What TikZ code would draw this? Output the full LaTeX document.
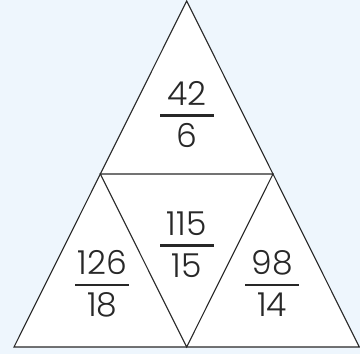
\documentclass[tikz,border=0pt]{standalone}
\usepackage{fontspec}
\setmainfont{Poppins}[UprightFont=* Light]
\usetikzlibrary{positioning, calc}
\definecolor{cBack}{RGB}{238, 246, 253}
\definecolor{tDark}{RGB}{40, 40, 40}

\begin{document}
\begin{tikzpicture}[
    x=1pt, y=1pt,
    font=\fontsize{33}{36}\selectfont,
    edge/.style={draw=tDark, line width=1.1pt, line join=miter},
    bar/.style={fill=tDark, minimum width=54pt, minimum height=2.6pt, inner sep=0pt},
    num/.style={text=tDark, inner sep=0pt}
]
\useasboundingbox[fill=cBack] (0,0) rectangle (360,354);

% corners of the big triangle
\coordinate (apex) at (186.7, 353);
\coordinate (bl) at (14, 7);
\coordinate (br) at (359.3, 7);
\coordinate (ml) at ($(apex)!0.5!(bl)$);
\coordinate (mr) at ($(apex)!0.5!(br)$);
\coordinate (mb) at ($(bl)!0.5!(br)$);

\fill[white] (apex) -- (bl) -- (br) -- cycle;
\draw[edge] (apex) -- (bl) -- (br) -- cycle;
\draw[edge] (ml) -- (mr) -- (mb) -- cycle;

% top
\node[bar] (btop) at (186.7, 238.3) {};
\node[num, above=8.5pt of btop] (ntop) {42};
\node[num, below=6pt of btop] (dtop) {6};

% middle
\node[bar] (bmid) at (186.7, 108.3) {};
\node[num, above=8.5pt of bmid] (nmid) {115};
\node[num, below=6pt of bmid] (dmid) {15};

% left
\node[bar] (bleft) at (102.2, 69) {};
\node[num, above=8.5pt of bleft] (nleft) {126};
\node[num, below=6pt of bleft] (dleft) {18};

% right
\node[bar] (bright) at (272.2, 69) {};
\node[num, above=8.5pt of bright] (nright) {98};
\node[num, below=6pt of bright] (dright) {14};

\end{tikzpicture}
\end{document}
